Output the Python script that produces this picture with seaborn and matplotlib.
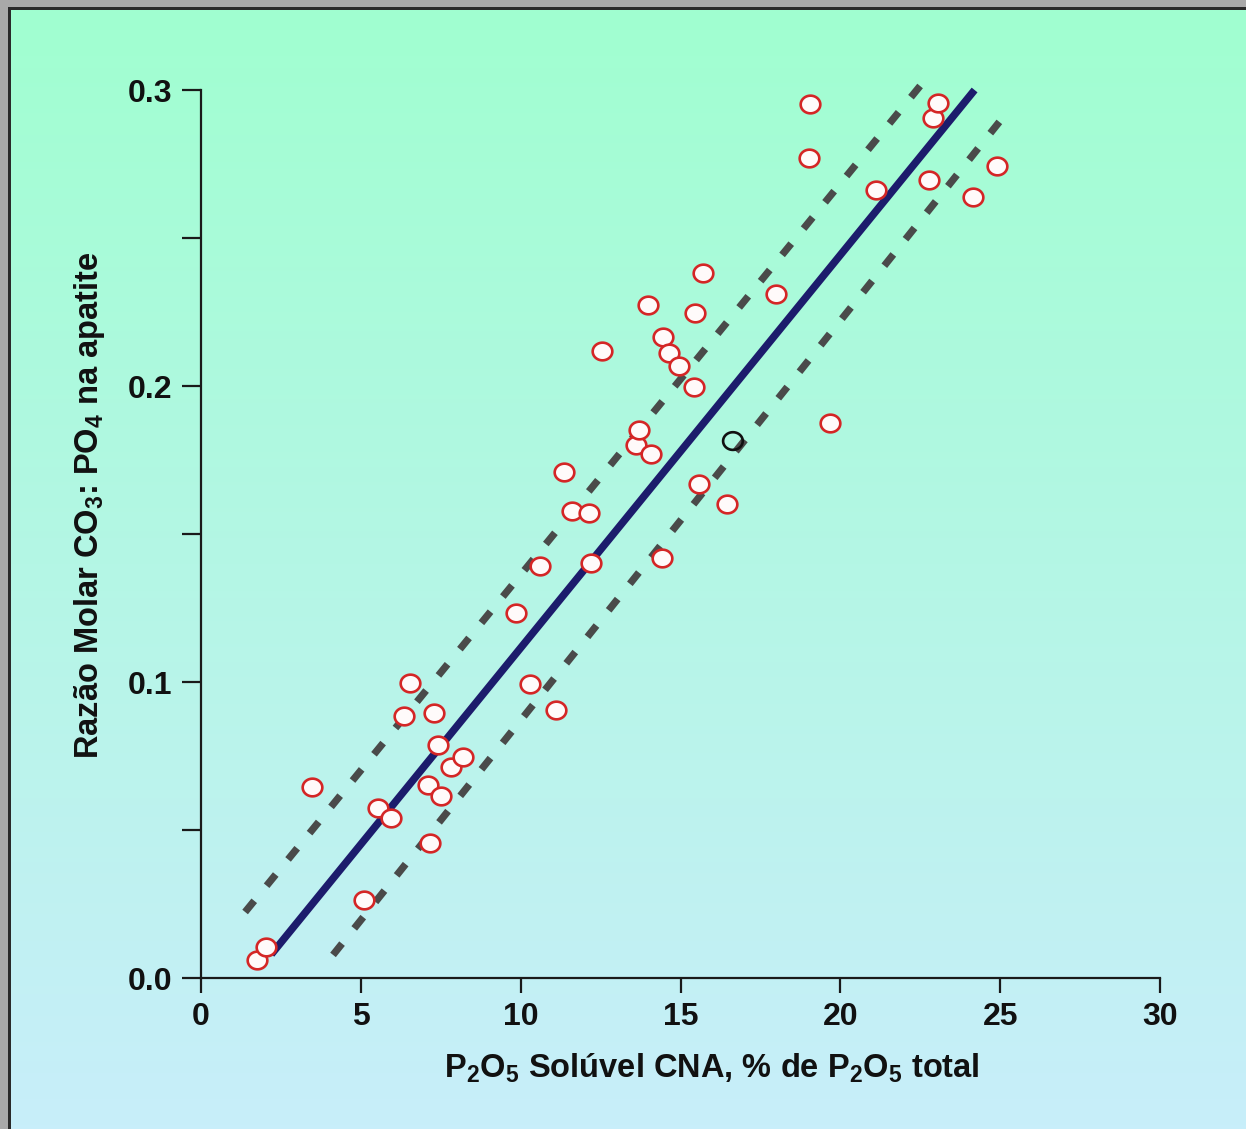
import numpy as np
import matplotlib
matplotlib.use("Agg")
import matplotlib.pyplot as plt
from matplotlib.path import Path
from matplotlib.patches import Rectangle
import seaborn as sns

# P2O5 solúvel em citrato neutro de amônio (% do P2O5 total)
p2o5_soluvel = [1.75, 2.03, 3.47, 5.10, 5.54, 5.94, 6.35, 6.54, 7.10, 7.16,
                7.29, 7.41, 7.51, 7.82, 8.20, 9.85, 10.29, 10.60, 11.10, 11.35,
                11.60, 12.14, 12.20, 12.54, 13.61, 13.70, 13.98, 14.08, 14.42, 14.45,
                14.64, 14.95, 15.42, 15.45, 15.58, 15.70, 16.45, 17.99, 19.05, 19.02,
                19.67, 21.11, 22.77, 22.90, 23.05, 24.15, 24.90]
# razão molar CO3:PO4 na apatita
razao_co3_po4 = [0.0061, 0.0105, 0.0645, 0.0264, 0.0574, 0.0541, 0.0885, 0.0997, 0.0652, 0.0456,
                 0.0895, 0.0787, 0.0615, 0.0713, 0.0747, 0.1233, 0.0993, 0.1392, 0.0905, 0.1709,
                 0.1578, 0.1571, 0.1402, 0.2118, 0.1801, 0.1851, 0.2274, 0.1770, 0.1419, 0.2166,
                 0.2111, 0.2068, 0.1997, 0.2247, 0.1669, 0.2382, 0.1601, 0.2311, 0.2953, 0.2770,
                 0.1875, 0.2662, 0.2696, 0.2905, 0.2956, 0.2639, 0.2743]

# amostra em destaque
destaque_x = [16.64]
destaque_y = [0.1814]

# reta de regressão e limites
reta_x = [2.2, 24.2]
reta_y = [0.008, 0.300]
lim_sup_x = [1.38, 22.65]
lim_sup_y = [0.0223, 0.3034]
lim_inf_x = [4.13, 25.15]
lim_inf_y = [0.0078, 0.2916]

x_ticks = [0, 5, 10, 15, 20, 25, 30]
y_ticks = [0.0, 0.1, 0.2, 0.3]
y_tick_labels = ["0.0", "0.1", "0.2", "0.3"]
y_minor_ticks = [0.05, 0.15, 0.25]

sns.set_theme(style="ticks")
plt.rcParams["font.family"] = ["Liberation Sans", "DejaVu Sans"]
plt.rcParams["font.weight"] = "bold"
plt.rcParams["mathtext.fontset"] = "custom"
plt.rcParams["mathtext.rm"] = "Liberation Sans:bold"
plt.rcParams["mathtext.it"] = "Liberation Sans:bold"
plt.rcParams["mathtext.bf"] = "Liberation Sans:bold"
plt.rcParams["mathtext.default"] = "rm"

W, H = 1246, 1129
fig = plt.figure(figsize=(W / 100, H / 100), dpi=100)

# fundo em degradê verde -> azul claro, com moldura cinza
bg = fig.add_axes([0, 0, 1, 1], zorder=-10)
t = np.linspace(0, 1, 300)[:, None, None]
top = np.array([160, 255, 208]) / 255
bot = np.array([200, 238, 250]) / 255
img = top[None, None, :] * (1 - t) + bot[None, None, :] * t
bg.imshow(img, aspect="auto", extent=[0, 1, 0, 1], origin="upper")
bg.add_patch(Rectangle((0, 1 - 7 / H), 1, 7 / H, color="#a9a9a9", lw=0))
bg.add_patch(Rectangle((0, 1 - 10 / H), 1, 3 / H, color="#2a2a2a", lw=0))
bg.add_patch(Rectangle((0, 0), 8 / W, 1, color="#a9a9a9", lw=0))
bg.add_patch(Rectangle((8 / W, 0), 3 / W, 1 - 7 / H, color="#2a2a2a", lw=0))
bg.set_xlim(0, 1)
bg.set_ylim(0, 1)
bg.axis("off")

ax = fig.add_axes([201 / W, 1 - 978 / H, 959 / W, 888 / H])
ax.patch.set_alpha(0)

# reta ajustada e limites tracejados
sns.lineplot(x=reta_x, y=reta_y, ax=ax, color="#1c1c6c", linewidth=5.4,
             solid_capstyle="butt", clip_on=False, zorder=3)
for lx, ly in [(lim_sup_x, lim_sup_y), (lim_inf_x, lim_inf_y)]:
    sns.lineplot(x=lx, y=ly, ax=ax, color="#4a4a4a", linewidth=5.2,
                 clip_on=False, zorder=2)
    ax.lines[-1].set_dashes((2.0, 2.7))
    ax.lines[-1].set_dash_capstyle("butt")

# marcador elíptico (polígono fino, levemente achatado)
ang = np.linspace(0, 2 * np.pi, 73)
ellipse = Path(np.column_stack([np.cos(ang), 0.9 * np.sin(ang)]), closed=True)

sns.scatterplot(x=p2o5_soluvel, y=razao_co3_po4, ax=ax, marker=ellipse, s=200,
                linewidth=1.9, clip_on=False, zorder=4)
sc = ax.collections[-1]
sc.set_facecolor("#fffafa")
sc.set_edgecolor("#d42626")

sns.scatterplot(x=destaque_x, y=destaque_y, ax=ax, marker=ellipse, s=200,
                linewidth=1.9, clip_on=False, zorder=4)
sc2 = ax.collections[-1]
sc2.set_facecolor("none")
sc2.set_edgecolor("#111111")

ax.set_xlim(0, 30)
ax.set_ylim(0, 0.3)
ax.set_xticks(x_ticks)
ax.set_yticks(y_ticks)
ax.set_yticklabels(y_tick_labels)
ax.set_yticks(y_minor_ticks, minor=True)
ax.tick_params(axis="y", which="both", length=13.5, width=1.6, direction="out",
               pad=7, labelsize=23, color="#1a1a1a", labelcolor="#111111")
ax.tick_params(axis="x", which="major", length=10.8, width=1.6, direction="out",
               pad=6.5, labelsize=23, color="#1a1a1a", labelcolor="#111111")
ax.tick_params(axis="x", which="minor", bottom=False)
sns.despine(ax=ax)
for side in ["left", "bottom"]:
    ax.spines[side].set_linewidth(1.6)
    ax.spines[side].set_color("#1a1a1a")

ax.set_xlabel(r"P$_{2}$O$_{5}$ Solúvel CNA, % de P$_{2}$O$_{5}$ total",
              fontsize=23.5, fontweight="bold", color="#111111")
ax.set_ylabel(r"Razão Molar CO$_{3}$: PO$_{4}$ na apatite",
              fontsize=23.5, fontweight="bold", color="#111111")
ax.xaxis.set_label_coords((712 - 201) / 959, (978 - 1068) / 888)
ax.xaxis.label.set_va("center")
ax.yaxis.set_label_coords((90 - 201) / 959, (978 - 505) / 888)
ax.yaxis.label.set_va("center")

fig.savefig("out.png", dpi=100)
